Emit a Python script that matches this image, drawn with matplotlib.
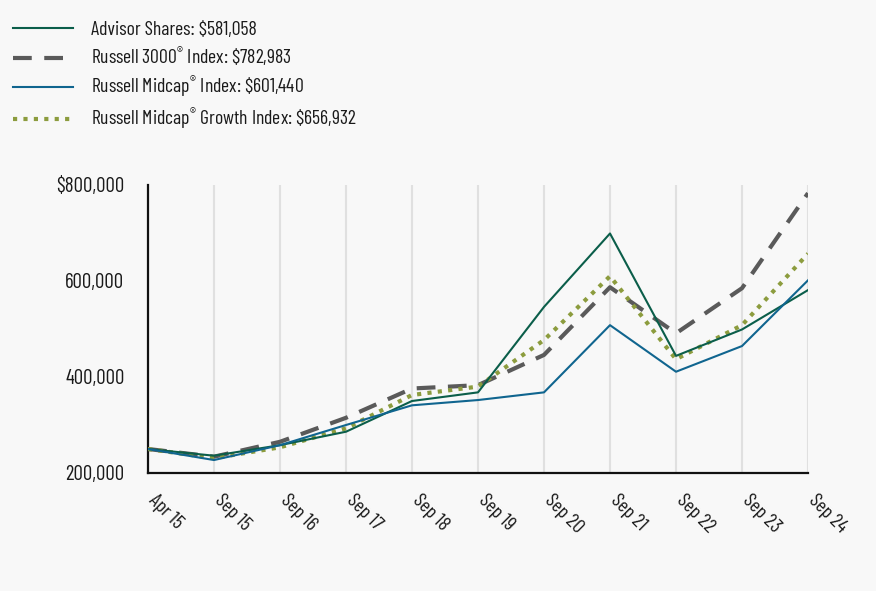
import matplotlib
matplotlib.use("Agg")
import matplotlib.pyplot as plt
import matplotlib.transforms as mtransforms
from matplotlib.ticker import FixedLocator, FuncFormatter

categories = ["Apr 15", "Sep 15", "Sep 16", "Sep 17", "Sep 18", "Sep 19",
              "Sep 20", "Sep 21", "Sep 22", "Sep 23", "Sep 24"]

advisor = [250000, 236000, 258000, 286000, 350000, 368000, 546000, 699000, 444000, 499000, 581058]
russell3000 = [250000, 234000, 265000, 315000, 376000, 383000, 446000, 587000, 491000, 585000, 782983]
midcap = [250000, 227000, 258000, 300000, 341000, 352000, 368000, 508000, 411000, 464500, 601440]
midcap_growth = [250000, 231000, 253500, 293000, 362500, 380000, 477000, 610000, 437000, 508000, 656932]

labels = [
    r"Advisor Shares: \$581,058",
    r"Russell 3000$^{\circledR}$ Index: \$782,983",
    r"Russell Midcap$^{\circledR}$ Index: \$601,440",
    r"Russell Midcap$^{\circledR}$ Growth Index: \$656,932",
]
yticks = [200000, 400000, 600000, 800000]

FONT = ["Barlow Condensed", "DejaVu Sans"]
plt.rcParams["font.family"] = FONT
plt.rcParams["mathtext.fontset"] = "custom"
plt.rcParams["mathtext.rm"] = "Barlow Condensed"
plt.rcParams["mathtext.it"] = "Barlow Condensed"
plt.rcParams["mathtext.bf"] = "Barlow Condensed"

BG = "#f8f8f8"
TXT = "#1a1a1a"
fig = plt.figure(figsize=(8.76, 5.91), dpi=100, facecolor=BG)
ax = fig.add_axes([148/876, 1-473/591, (808-148)/876, (473-185)/591])
ax.set_facecolor(BG)

x = list(range(len(categories)))
c_green = "#0b5e4a"
c_gray = "#5a5a5a"
c_blue = "#10658f"
c_olive = "#8c9c3e"

l1, = ax.plot(x, advisor, color=c_green, lw=1.5, zorder=4)
l2, = ax.plot(x, russell3000, color=c_gray, lw=3.0, dashes=(4.5, 3.0), dash_capstyle="butt", zorder=3)
l3, = ax.plot(x, midcap, color=c_blue, lw=1.5, zorder=4)
l4, = ax.plot(x, midcap_growth, color=c_olive, lw=3.0, dashes=(1.0, 1.5), dash_capstyle="butt", zorder=3)

ax.set_xlim(0, len(categories) - 1)
ax.set_ylim(200000, 800000)

for xi in x[1:]:
    ax.axvline(xi, color="#e0e0e0", lw=1.5, zorder=1)

ax.yaxis.set_major_locator(FixedLocator(yticks))
ax.yaxis.set_major_formatter(FuncFormatter(lambda v, p: ("$" if v == 800000 else "") + f"{int(v):,}"))
ax.set_xticks(x)
ax.set_xticklabels(categories)

for s in ["top", "right"]:
    ax.spines[s].set_visible(False)
for s in ["left", "bottom"]:
    ax.spines[s].set_linewidth(1.6)
    ax.spines[s].set_color("#111111")

ax.tick_params(axis="both", length=0)
ax.tick_params(axis="y", pad=17, labelsize=15, labelcolor=TXT)
ax.tick_params(axis="x", pad=13, labelsize=14.5, labelcolor=TXT)
offset = mtransforms.ScaledTranslation(-3/100, 0, fig.dpi_scale_trans)
for lab in ax.get_xticklabels():
    lab.set_rotation(-45)
    lab.set_ha("left")
    lab.set_va("top")
    lab.set_rotation_mode("default")
    lab.set_transform(lab.get_transform() + offset)

leg = fig.legend([l1, l2, l3, l4], labels, loc="upper left",
                 bbox_to_anchor=(13/876, 1-21/591), frameon=False,
                 fontsize=14.2, handlelength=3.05, handletextpad=0.92,
                 labelspacing=0.34, borderaxespad=0, borderpad=0)
for t in leg.get_texts():
    t.set_color(TXT)

fig.savefig("out.png", dpi=100, facecolor=BG)
